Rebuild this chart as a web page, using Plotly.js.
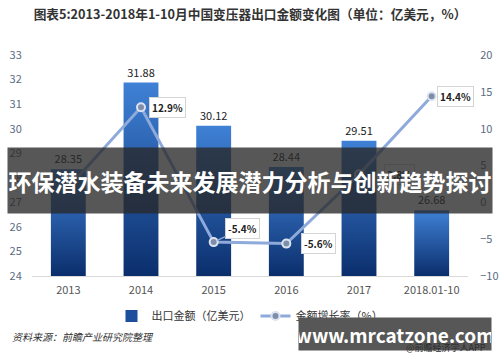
<!DOCTYPE html>
<html><head><meta charset="utf-8">
<script src="https://cdn.plot.ly/plotly-3.0.1.min.js"></script>
<style>
html,body{margin:0;padding:0;background:#fff}
#chart{width:500px;height:362px}
</style>
</head><body>
<div id="chart"></div>
<script>
// ---- data ----
const categories = ['2013', '2014', '2015', '2016', '2017', '2018.01-10'];
const exportValues = [28.35, 31.88, 30.12, 28.44, 29.51, 26.68];
const growthRates = [2.0, 12.9, -5.4, -5.6, 3.8, 14.4];
const growthLabels = [null, '12.9%', '-5.4%', '-5.6%', '3.8%', '14.4%'];
const leftTicks = [24, 25, 26, 27, 28, 29, 30, 31, 32, 33];
const rightTicks = [-10, -5, 0, 5, 10, 15, 20];

// ---- geometry helpers ----
const W = 500, H = 362, M = {l: 32, r: 32, t: 55, b: 86};
const PW = W - M.l - M.r, PH = H - M.t - M.b;
const px = x => (x - M.l) / PW;
const py = y => (H - M.b - y) / PH;

const FONT = 'Noto Sans CJK SC, Liberation Sans, sans-serif';

const data = [
  {
    type: 'bar', x: categories, y: exportValues, name: '出口金额（亿美元）',
    marker: {color: '#1d4f9c'},
    text: exportValues.map(v => v.toFixed(2)), textposition: 'outside',
    textfont: {size: 11, color: '#222'}, cliponaxis: false
  },
  {
    type: 'scatter', mode: 'lines+markers', x: categories, y: growthRates,
    yaxis: 'y2', name: '金额增长率（%）',
    line: {color: '#8eaadb', width: 3},
    marker: {size: 8, color: '#7f8ea8', line: {color: '#dbe3f0', width: 2}},
    cliponaxis: false
  }
];

const labelShift = [0, 26, 0, 32, 40, 24];
const annotations = [];
growthLabels.forEach((t, i) => {
  if (!t) return;
  const a = {
    xref: 'x', yref: 'y2', x: i, y: growthRates[i], text: t,
    showarrow: false, xshift: labelShift[i],
    bgcolor: '#ffffff', bordercolor: '#d4d4d4', borderwidth: 1, borderpad: 2,
    font: {size: 10, color: '#222', weight: 'bold'}
  };
  if (i === 2) {
    a.showarrow = true; a.ax = 29; a.ay = -14; a.arrowhead = 0;
    a.arrowcolor = '#8eaadb'; a.arrowwidth = 1.5; a.standoff = 4; a.xshift = 0;
  }
  annotations.push(a);
});

annotations.push({
  xref: 'paper', yref: 'paper', x: px(10), y: py(336), xanchor: 'left', yanchor: 'middle',
  text: '资料来源：前瞻产业研究院整理', showarrow: false,
  font: {size: 10, color: '#333', style: 'italic'}
});
annotations.push({
  xref: 'paper', yref: 'paper', x: px(250), y: py(180.5), xanchor: 'center', yanchor: 'middle',
  text: '环保潜水装备未来发展潜力分析与创新趋势探讨', showarrow: false,
  width: 484, height: 65, borderpad: 0, bgcolor: 'rgba(40,40,40,0.78)',
  font: {size: 23, color: '#ffffff', weight: 'bold'}
});
annotations.push({
  xref: 'paper', yref: 'paper', x: px(394.5), y: py(336), xanchor: 'center', yanchor: 'middle',
  text: 'www.mrcatzone.com', showarrow: false,
  width: 192, height: 32, borderpad: 0, bgcolor: '#575757', yshift: 2,
  font: {size: 19, color: '#ffffff', weight: 'bold'}
});
annotations.push({
  xref: 'paper', yref: 'paper', x: px(488), y: py(347), xanchor: 'right', yanchor: 'middle',
  text: '@前瞻经济学人APP', showarrow: false,
  font: {size: 9, color: '#2e2e2e'}
});

const layout = {
  width: W, height: H, margin: M,
  paper_bgcolor: '#ffffff', plot_bgcolor: '#ffffff',
  font: {family: FONT, color: '#333'},
  title: {
    text: '图表5:2013-2018年1-10月中国变压器出口金额变化图（单位：亿美元，%）',
    x: 0.5, xref: 'container', y: 1 - 15 / H, yref: 'container', yanchor: 'middle',
    font: {size: 12.7, color: '#333', weight: 'bold'}
  },
  bargap: 0.52,
  showlegend: true,
  legend: {
    orientation: 'h', x: 0.5, xanchor: 'center', y: py(316), yanchor: 'middle',
    font: {size: 11, color: '#333'}, itemwidth: 30, bgcolor: 'rgba(0,0,0,0)'
  },
  xaxis: {
    type: 'category', range: [-0.5, categories.length - 0.5], autorange: false,
    showline: true, linecolor: '#d9d9d9', linewidth: 1,
    showgrid: false, zeroline: false, ticks: 'outside', ticklen: 4,
    tickcolor: 'rgba(0,0,0,0)', tickfont: {size: 11, color: '#555'}
  },
  yaxis: {
    range: [24, 33], autorange: false, tickvals: leftTicks, showgrid: false, zeroline: false,
    showline: false, ticks: 'outside', ticklen: 7, tickcolor: 'rgba(0,0,0,0)',
    tickfont: {size: 11, color: '#5b6b82'}
  },
  yaxis2: {
    range: [-10, 20], autorange: false, tickvals: rightTicks, overlaying: 'y', side: 'right',
    showgrid: false, zeroline: false, showline: false, ticks: 'outside', ticklen: 9,
    tickcolor: 'rgba(0,0,0,0)', tickfont: {size: 11, color: '#5b6b82'}
  },
  annotations: annotations
};

// Vertical gradient per bar: from the bar's top to the visible axis baseline.
function applyGrad(gd) {
  const ns = 'http://www.w3.org/2000/svg';
  const svg = gd.querySelector('svg.main-svg');
  const defs = svg.querySelector('defs');
  const plotH = gd._fullLayout._size.h;
  gd.querySelectorAll('.barlayer .point path').forEach((p, i) => {
    const bb = p.getBBox();
    const id = 'barGrad' + i;
    let lg = document.getElementById(id);
    if (!lg) {
      lg = document.createElementNS(ns, 'linearGradient');
      lg.setAttribute('id', id);
      [['0', '#3f81d6'], ['1', '#0b2e6c']].forEach(([o, c]) => {
        const s = document.createElementNS(ns, 'stop');
        s.setAttribute('offset', o); s.setAttribute('stop-color', c);
        lg.appendChild(s);
      });
      defs.appendChild(lg);
    }
    lg.setAttribute('gradientUnits', 'userSpaceOnUse');
    lg.setAttribute('x1', bb.x); lg.setAttribute('x2', bb.x);
    lg.setAttribute('y1', bb.y); lg.setAttribute('y2', Math.min(bb.y + bb.height, plotH));
    p.style.setProperty('fill', 'url(#' + id + ')', 'important');
  });
}

Plotly.newPlot('chart', data, layout, {displayModeBar: false, staticPlot: true}).then(gd => {
  applyGrad(gd);
  gd.on('plotly_afterplot', () => applyGrad(gd));
});
</script>
</body></html>
